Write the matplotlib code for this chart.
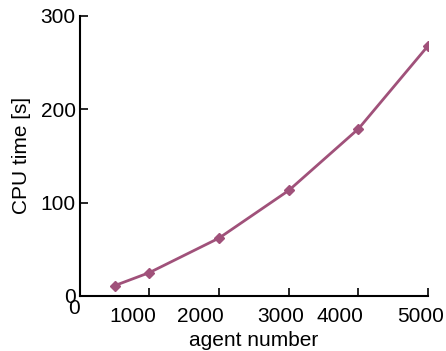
import matplotlib.pyplot as plt
from matplotlib.transforms import ScaledTranslation

agents = [500, 1000, 2000, 3000, 4000, 5000]
cpu_time = [11, 25, 62, 113, 179, 268]

x_ticks = [0, 1000, 2000, 3000, 4000, 5000]
y_ticks = [0, 100, 200, 300]

plt.rcParams["font.family"] = ["Liberation Sans", "DejaVu Sans"]

fig = plt.figure(figsize=(4.46, 3.51), dpi=100)
ax = fig.add_axes([0.179, 0.157, 0.781, 0.798])

color = "#a0517a"
ax.plot(agents, cpu_time, color=color, lw=2, marker="D", ms=5.5,
        mfc=color, mec=color)

ax.set_xlim(0, 5000)
ax.set_ylim(0, 300)
ax.set_xticks(x_ticks)
ax.set_yticks(y_ticks)
ax.tick_params(direction="in", length=6, width=1.2, labelsize=15, pad=3)
for s in ("top", "right"):
    ax.spines[s].set_visible(False)
for s in ("left", "bottom"):
    ax.spines[s].set_linewidth(1.5)

# the original's x labels sit off-centre from their ticks (pixel shifts)
shifts = [(-6, 1), (-17, -7), (-19, -7), (-8, -7), (-19, -7), (-8, -7)]
for lbl, (dx, dy) in zip(ax.get_xticklabels(), shifts):
    lbl.set_transform(lbl.get_transform()
                      + ScaledTranslation(dx / 100, dy / 100, fig.dpi_scale_trans))

ax.set_xlabel("agent number", fontsize=15, labelpad=3.5)
ax.set_ylabel("CPU time [s]", fontsize=15, labelpad=7)

fig.savefig("out.png", dpi=100)
